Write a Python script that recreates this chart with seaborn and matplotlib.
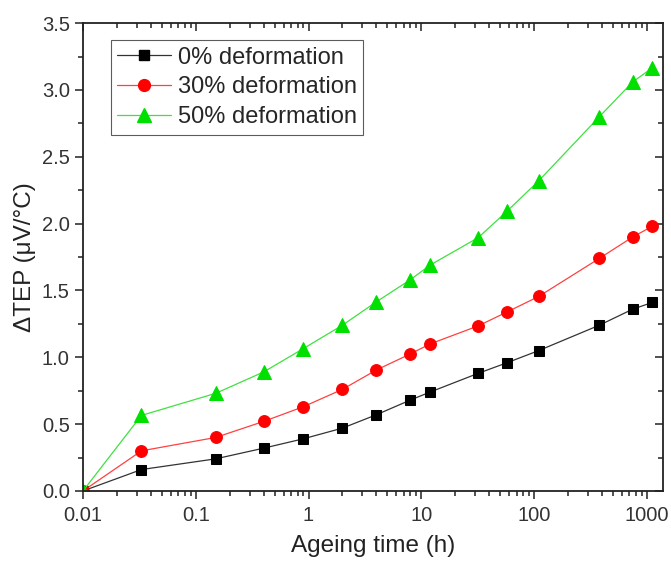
import pandas as pd
import matplotlib.pyplot as plt
import matplotlib.ticker as mticker
import seaborn as sns

# Ageing time (h) and TEP change for each deformation level
ageing_time = [0.01, 0.033, 0.15, 0.4, 0.9, 2, 4, 8, 12, 32, 58, 110, 380, 750, 1120]
tep_0 = [0, 0.16, 0.24, 0.32, 0.39, 0.47, 0.57, 0.68, 0.74, 0.88, 0.96, 1.05, 1.24, 1.36, 1.41]
tep_30 = [0, 0.30, 0.40, 0.52, 0.63, 0.76, 0.905, 1.025, 1.10, 1.235, 1.34, 1.455, 1.74, 1.90, 1.98]
tep_50 = [0, 0.565, 0.73, 0.89, 1.065, 1.24, 1.415, 1.58, 1.69, 1.895, 2.095, 2.32, 2.80, 3.06, 3.165]
labels = ['0% deformation', '30% deformation', '50% deformation']

df = pd.concat([
    pd.DataFrame({'time': ageing_time, 'tep': vals, 'series': lab})
    for vals, lab in zip([tep_0, tep_30, tep_50], labels)
])

sns.set_style('ticks')
plt.rcParams['font.family'] = ['Liberation Sans', 'DejaVu Sans']

fig = plt.figure(figsize=(6.71, 5.63), dpi=100)
ax = fig.add_axes([0.1237, 0.128, 0.8643, 0.831])

line_colors = {labels[0]: '#333333', labels[1]: '#ff4040', labels[2]: '#40e040'}
marker_colors = ['black', '#ff0000', '#00e000']
markers = {labels[0]: 's', labels[1]: 'o', labels[2]: '^'}
sizes = [7, 8.5, 9.5]

sns.lineplot(data=df, x='time', y='tep', hue='series', style='series',
             palette=line_colors, markers=markers, dashes=False,
             linewidth=0.9, ax=ax, legend=False)

# colour markers separately from the thin lines
for line, mc, ms in zip(ax.get_lines(), marker_colors, sizes):
    line.set_markerfacecolor(mc)
    line.set_markeredgecolor(mc)
    line.set_markersize(ms)

handles = [plt.Line2D([], [], color=line_colors[l], lw=0.9, marker=markers[l],
                      markerfacecolor=mc, markeredgecolor=mc, markersize=ms)
           for l, mc, ms in zip(labels, marker_colors, sizes)]
leg = ax.legend(handles, labels, loc='upper left', bbox_to_anchor=(0.048, 0.964),
                fontsize=17, frameon=True, fancybox=False, edgecolor='#333333',
                handlelength=2.25, borderpad=0.28, labelspacing=0.33, handletextpad=0.3,
                borderaxespad=0)
leg.get_frame().set_linewidth(0.8)

ax.set_xscale('log')
ax.set_xlim(0.01, 1390)
ax.set_ylim(0, 3.5)
ax.xaxis.set_major_locator(mticker.FixedLocator([0.01, 0.1, 1, 10, 100, 1000]))
ax.xaxis.set_major_formatter(mticker.FixedFormatter(['0.01', '0.1', '1', '10', '100', '1000']))
ax.xaxis.set_minor_locator(mticker.LogLocator(base=10, subs=range(2, 10), numticks=20))
ax.xaxis.set_minor_formatter(mticker.NullFormatter())
ax.yaxis.set_major_locator(mticker.MultipleLocator(0.5))
ax.yaxis.set_minor_locator(mticker.MultipleLocator(0.25))
ax.yaxis.set_major_formatter(mticker.FormatStrFormatter('%.1f'))

for side in ['top', 'right', 'left', 'bottom']:
    ax.spines[side].set_visible(True)
    ax.spines[side].set_linewidth(1.3)
    ax.spines[side].set_color('#222222')

ax.tick_params(which='both', direction='out', top=False, right=False, width=1.1, color='#222222')
ax.tick_params(which='major', length=6, labelsize=14.5, labelcolor='#333333')
ax.tick_params(which='minor', length=3.5)
ax.tick_params(axis='x', which='major', pad=5)

# mirrored inward ticks on top and right
sec_x = ax.secondary_xaxis('top')
sec_x.set_xscale('log')
sec_x.xaxis.set_major_locator(mticker.FixedLocator([0.01, 0.1, 1, 10, 100, 1000]))
sec_x.xaxis.set_minor_locator(mticker.LogLocator(base=10, subs=range(2, 10), numticks=20))
sec_x.tick_params(which='both', direction='in', labeltop=False, width=1.1, color='#222222')
sec_x.tick_params(which='major', length=6)
sec_x.tick_params(which='minor', length=3.5)
sec_x.xaxis.set_major_formatter(mticker.NullFormatter())
sec_x.xaxis.set_minor_formatter(mticker.NullFormatter())
sec_x.spines['top'].set_visible(False)

sec_y = ax.secondary_yaxis('right')
sec_y.yaxis.set_major_locator(mticker.MultipleLocator(0.5))
sec_y.yaxis.set_minor_locator(mticker.MultipleLocator(0.25))
sec_y.tick_params(which='both', direction='in', labelright=False, width=1.1, color='#222222')
sec_y.tick_params(which='major', length=6)
sec_y.tick_params(which='minor', length=3.5)
sec_y.spines['right'].set_visible(False)

ax.set_xlabel('Ageing time (h)', fontsize=17.5, labelpad=7, color='#222222')
ax.set_ylabel('ΔTEP (μV/°C)', fontsize=17.5, labelpad=4, color='#222222')

fig.savefig('out.png', dpi=100)
